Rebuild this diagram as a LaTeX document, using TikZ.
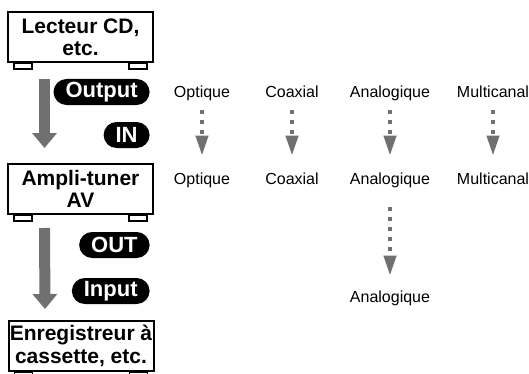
\documentclass[tikz,border=0pt]{standalone}
\usepackage{fontspec}
\setmainfont{Liberation Sans}
\usetikzlibrary{arrows.meta}
\definecolor{grisfleche}{HTML}{707070}
\begin{document}
\begin{tikzpicture}[x=0.5pt, y=-0.5pt, line join=miter,
    appareil/.style={draw, line width=1pt, fill=white, minimum width=72.5pt, minimum height=25pt,
      inner sep=0pt, align=center, font=\bfseries\fontsize{10.5}{11.2}\selectfont},
    pastille/.style={fill=black, text=white, rounded corners=6.5pt, minimum height=13pt,
      inner xsep=6pt, inner ysep=0pt, anchor=east, font=\bfseries\fontsize{11}{12}\selectfont},
    prise/.style={inner sep=0pt, text height=6pt, text depth=1.7pt, font=\fontsize{8}{10}\selectfont},
    grosse/.style={draw=grisfleche, line width=5.5pt, -{Triangle[width=12pt,length=7.5pt,fill=grisfleche]}},
    pointille/.style={draw=grisfleche, line width=2pt, dash pattern=on 2pt off 3pt,
      -{Triangle[width=6pt,length=10pt,sep=3pt,fill=grisfleche]}}]
  \useasboundingbox[fill=white] (0,0) rectangle (529,374);
  % les trois appareils
  \node[appareil] (lecteur) at (80.5,37)  {Lecteur CD,\\etc.};
  \node[appareil] (ampli)   at (80.5,189) {Ampli-tuner\\AV};
  \node[appareil] (enreg)   at (81,346)   {Enregistreur à\\cassette, etc.};
  \foreach \b in {lecteur, ampli, enreg} {
    \draw[line width=0.8pt, fill=white] ([xshift=3.5pt]\b.south west) rectangle ++(9pt,-3pt);
    \draw[line width=0.8pt, fill=white] ([xshift=-3.5pt]\b.south east) rectangle ++(-9pt,-3pt);
  }
  % les grosses flèches grises
  \draw[grosse] ([xshift=18.75pt, yshift=-8pt]lecteur.south west) -- ([xshift=18.75pt, yshift=7.5pt]ampli.north west);
  \draw[grosse] ([xshift=18.75pt, yshift=-6.5pt]ampli.south west) -- ([xshift=18.75pt, yshift=5.5pt]enreg.north west);
  % les pastilles noires
  \node[pastille] (output) at (150,92)  {Output};
  \node[pastille] (in)     at (150,135) {IN};
  \node[pastille] (out)    at (150,245) {OUT};
  \node[pastille] (input)  at (150,291) {Input};
  % les prises, de haut en bas
  \foreach \n/\x/\t in {opt/202/Optique, coax/292/Coaxial, ana/390/Analogique, multi/493/Multicanal} {
    \node[prise] (\n1) at (\x,93)  {\t};
    \node[prise] (\n2) at (\x,180) {\t};
    \draw[pointille, shorten <=4.65pt, shorten >=5.15pt] (\n1) -- (\n2);
  }
  \node[prise] (ana3) at (390,298) {Analogique};
  \draw[pointille, shorten <=9.65pt, shorten >=4.15pt] (ana2) -- (ana3);
\end{tikzpicture}
\end{document}
